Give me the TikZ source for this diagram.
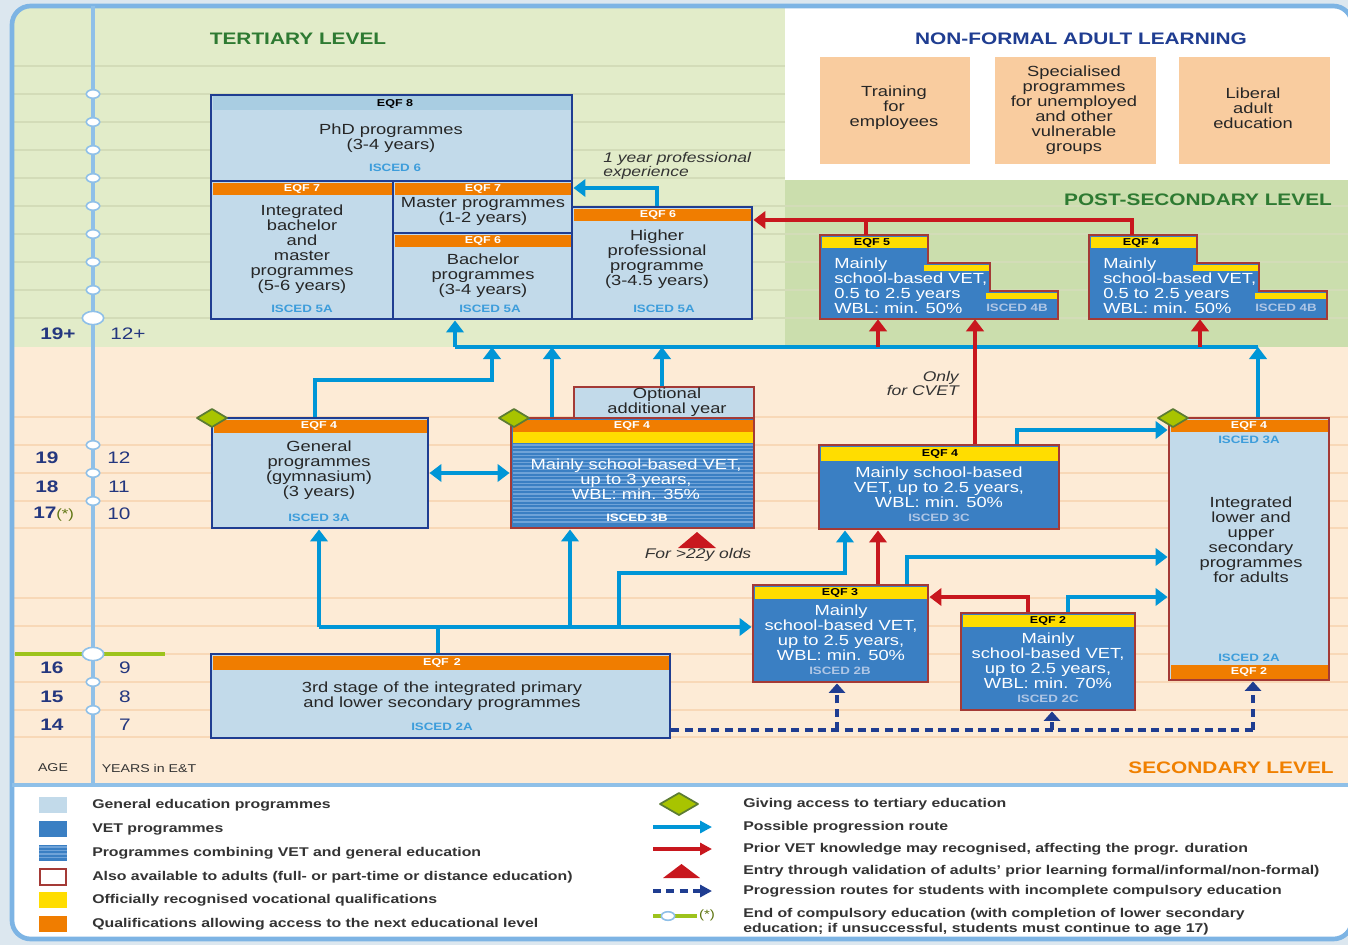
\documentclass[tikz,border=0pt]{standalone}
\usepackage{fontspec}
\setmainfont{Liberation Sans}[FakeStretch=1.25]
\usetikzlibrary{arrows.meta,fit}

\definecolor{tertgreen}{HTML}{E2ECC9}
\definecolor{postgreen}{HTML}{CBDEAD}
\definecolor{secpeach}{HTML}{FDEBD6}
\definecolor{outerbg}{HTML}{DCE7EF}
\definecolor{framebl}{HTML}{7DB4E4}
\definecolor{timebl}{HTML}{8FC0E8}
\definecolor{rowgreen}{HTML}{D3DCB8}
\definecolor{rowpeach}{HTML}{F8D8B7}
\definecolor{genfill}{HTML}{C2DAEA}
\definecolor{phdhead}{HTML}{A9CDE2}
\definecolor{genborder}{HTML}{1F3D91}
\definecolor{vetfill}{HTML}{3A7FC3}
\definecolor{stripebl}{HTML}{6FA3D8}
\definecolor{adultred}{HTML}{A43A36}
\definecolor{eqforange}{HTML}{F07D00}
\definecolor{eqfyellow}{HTML}{FFDD00}
\definecolor{iscedgen}{HTML}{3D9DDB}
\definecolor{iscedvet}{HTML}{AFC6E5}
\definecolor{progblue}{HTML}{0096D7}
\definecolor{priorred}{HTML}{C8171E}
\definecolor{diamondgr}{HTML}{A8C400}
\definecolor{diamondln}{HTML}{5C7C34}
\definecolor{compgreen}{HTML}{9DC31C}
\definecolor{titlegreen}{HTML}{2E7A32}
\definecolor{titleblue}{HTML}{1F3D91}
\definecolor{titleorange}{HTML}{F08000}
\definecolor{nonformal}{HTML}{F9CC9F}
\definecolor{legendtxt}{HTML}{333333}
\definecolor{agecol}{HTML}{24377F}

\newcommand{\bxfont}{\fontsize{11}{11.25}\selectfont}
\newcommand{\eqfft}{\fontsize{7.5}{8}\selectfont\bfseries}
\newcommand{\iscft}{\fontsize{8}{9}\selectfont\bfseries}
\newcommand{\ttlft}{\fontsize{12.5}{14}\selectfont\bfseries}
\newcommand{\noteft}{\fontsize{10.5}{10.5}\selectfont\itshape}
\newcommand{\legft}{\fontsize{9.5}{11.5}\selectfont\bfseries}
\newcommand{\ageft}{\fontsize{12.5}{13}\selectfont}

\begin{document}
\begin{tikzpicture}[x=0.75pt, y=-0.75pt,
  genbox/.style={draw=genborder, line width=2.2pt, fill=genfill, inner sep=0pt},
  adultgen/.style={draw=adultred, line width=2.2pt, fill=genfill, inner sep=0pt},
  vetbox/.style={draw=adultred, line width=2.2pt, fill=vetfill, inner sep=0pt},
  nfbox/.style={fill=nonformal, inner sep=0pt},
  txt/.style={align=center, font=\bxfont, inner sep=0pt, text=black!85},
  vettxt/.style={align=center, font=\bxfont, inner sep=0pt, text=white},
  eqfw/.style={font=\eqfft, text=white, inner sep=0pt},
  eqfk/.style={font=\eqfft, text=black, inner sep=0pt},
  iscg/.style={font=\iscft, text=iscedgen, inner sep=0pt},
  iscv/.style={font=\iscft, text=iscedvet, inner sep=0pt},
  bigtip/.style={-{Triangle[width=13pt,length=9pt]}},
  prog/.style={draw=progblue, line width=3.4pt, bigtip},
  progline/.style={draw=progblue, line width=3.4pt},
  prior/.style={draw=priorred, line width=3.4pt, bigtip},
  priorline/.style={draw=priorred, line width=3.4pt},
  incompl/.style={draw=genborder, line width=2.6pt, dash pattern=on 6pt off 4pt, -{Triangle[width=12pt,length=7pt]}},
  incompline/.style={draw=genborder, line width=2.6pt, dash pattern=on 6pt off 4pt},
  remark/.style={font=\noteft, inner sep=0pt, text=black!80},
  lvltitle/.style={font=\ttlft, inner sep=0pt},
  legtext/.style={font=\legft, text=legendtxt, anchor=west, inner sep=0pt, align=left},
  agetick/.style={fill=white, draw=timebl, line width=1.2pt},
  accessmark/.style={fill=diamondgr, draw=diamondln, line width=1.3pt, line join=round},
  agenum/.style={font=\ageft\bfseries, text=agecol, inner sep=0pt},
  yearnum/.style={font=\ageft, text=agecol, inner sep=0pt},
  legtip/.style={-{Triangle[width=9pt,length=9pt]}},
]
\useasboundingbox (0,0) rectangle (1348,945);
\fill[outerbg] (0,0) rectangle (1348,945);

% background levels
\begin{scope}
  \clip[rounded corners=14pt] (12,6) rectangle (1352,939);
  \fill[tertgreen] (12,6) rectangle (785,347);
  \fill[white] (785,6) rectangle (1352,180);
  \fill[postgreen] (785,180) rectangle (1352,347);
  \fill[secpeach] (12,347) rectangle (1352,785);
  \fill[white] (12,785) rectangle (1352,939);
  \foreach \ry in {66,94,122,150,178}
    \draw[rowgreen, line width=0.9pt] (14,\ry) -- (785,\ry);
  \foreach \ry in {206,234,262,290,318}
    \draw[rowgreen, line width=0.9pt] (14,\ry) -- (1352,\ry);
  \foreach \ry in {417,445,473,501,528,598,626,654,682,710,737}
    \draw[rowpeach, line width=0.9pt] (14,\ry) -- (1352,\ry);
\end{scope}
\draw[framebl, line width=3.5pt, rounded corners=14pt] (12,6) rectangle (1352,939);
\draw[timebl, line width=2.5pt] (12,785) -- (1352,785);

% age scale
\draw[timebl, line width=3.6pt] (93,6) -- (93,785);
\draw[compgreen, line width=3pt] (15,654) -- (165,654);
\foreach \ty in {94,122,150,178,206,234,262,290,445,473,501,682,710}
  \draw[agetick] (93,\ty) ellipse [x radius=5pt, y radius=3.2pt];
\foreach \ty in {318,654}
  \draw[agetick] (93,\ty) ellipse [x radius=8pt, y radius=5pt];
\node[agenum] at (58,334) {19+};
\node[yearnum] at (128,334) {12+};
\foreach \ax/\ay/\an/\yx/\yn in {47/458/19/119/12, 47/487/18/119/11, 52/668/16/125/9, 52/697/15/125/8, 52/725/14/125/7} {
  \node[agenum] at (\ax,\ay) {\an};
  \node[yearnum] at (\yx,\ay) {\yn};
}
\node[agenum, anchor=west] at (33,514) {17\textcolor{compgreen!60!black}{\fontsize{10}{10}\selectfont\mdseries(*)}};
\node[yearnum] at (119,514) {10};
\node[font=\fontsize{8.5}{9}\selectfont, text=legendtxt] at (53,768) {AGE};
\node[font=\fontsize{8.5}{9}\selectfont, text=legendtxt] at (149,768) {YEARS in E\&T};

% level titles
\node[lvltitle, text=titlegreen] at (298,39) {TERTIARY LEVEL};
\node[lvltitle, text=titleblue] at (1081,39) {NON-FORMAL ADULT LEARNING};
\node[lvltitle, text=titlegreen] at (1198,200) {POST-SECONDARY LEVEL};
\node[lvltitle, text=titleorange] at (1231,768) {SECONDARY LEVEL};

% non-formal adult learning
\node[nfbox, fit={(820,57) (970,164)}] (nf1) {};
\node[txt] at (894,108) {Training\\for\\employees};
\node[nfbox, fit={(995,57) (1156,164)}] (nf2) {};
\node[txt] at (1074,110) {Specialised\\programmes\\for unemployed\\and other\\vulnerable\\groups};
\node[nfbox, fit={(1179,57) (1330,164)}] (nf3) {};
\node[txt] at (1253,108) {Liberal\\adult\\education};

% tertiary level
\node[genbox, fit={(211,95) (572,181)}] (phd) {};
\fill[phdhead] (212.5,96.5) rectangle (570.5,110);
\node[eqfk] at (395,103.5) {EQF 8};
\node[txt] at (391,138) {PhD programmes\\(3-4 years)};
\node[iscg] at (395,168) {ISCED 6};

\node[genbox, fit={(211,181) (393,319)}] (ibm) {};
\fill[eqforange] (212.5,182.5) rectangle (391.5,195);
\node[eqfw] at (302,189) {EQF 7};
\node[txt] at (302,249.5) {Integrated\\bachelor\\and\\master\\programmes\\(5-6 years)};
\node[iscg] at (302,309) {ISCED 5A};

\node[genbox, fit={(393,181) (572,233)}] (mast) {};
\fill[eqforange] (394.5,182.5) rectangle (570.5,195);
\node[eqfw] at (483,189) {EQF 7};
\node[txt] at (483,211.5) {Master programmes\\(1-2 years)};

\node[genbox, fit={(393,233) (572,319)}] (bach) {};
\fill[eqforange] (394.5,234.5) rectangle (570.5,247);
\node[eqfw] at (483,241) {EQF 6};
\node[txt] at (483,276) {Bachelor\\programmes\\(3-4 years)};
\node[iscg] at (490,309) {ISCED 5A};

\node[genbox, fit={(572,207) (752,319)}] (hpp) {};
\fill[eqforange] (573.5,208.5) rectangle (750.5,221);
\node[eqfw] at (658,215) {EQF 6};
\node[txt] at (657,259.5) {Higher\\professional\\programme\\(3-4.5 years)};
\node[iscg] at (664,309) {ISCED 5A};

% post-secondary level
\foreach \ox/\lab in {820/5, 1089/4} {
  \draw[vetbox] (\ox,235) -- ++(108,0) -- ++(0,28) -- ++(62,0) -- ++(0,28) -- ++(68,0) -- ++(0,28) -- (\ox,319) -- cycle;
  \node[fit={(\ox,235) (\ox+238,319)}, inner sep=0pt] (psbox\lab) {};
  \fill[eqfyellow] (\ox+1.5,236.5) rectangle (\ox+106.5,248);
  \fill[eqfyellow] (\ox+104,265) rectangle (\ox+168.5,271);
  \fill[eqfyellow] (\ox+166,293) rectangle (\ox+236.5,299);
  \node[eqfk] at (\ox+52,242.5) {EQF \lab};
  \node[vettxt, align=left, anchor=west] at (\ox+14,285.5) {Mainly\\school-based VET,\\0.5 to 2.5 years\\WBL: min. 50\%};
  \node[iscv] at (\ox+197,308) {ISCED 4B};
}

% upper secondary level
\node[genbox, fit={(212,418) (428,528)}] (gym) {};
\fill[eqforange] (213.5,419.5) rectangle (426.5,432.5);
\node[eqfw] at (319,426) {EQF 4};
\node[txt] at (319,470) {General\\programmes\\(gymnasium)\\(3 years)};
\node[iscg] at (319,518) {ISCED 3A};

\node[adultgen, fit={(574,387) (754,418)}] (optyr) {};
\node[txt] at (667,402) {Optional\\additional year};

\node[vetbox, fit={(511,418) (754,528)}] (vet3b) {};
\fill[eqforange] (512.5,419.5) rectangle (752.5,431.5);
\fill[eqfyellow] (512.5,431.5) rectangle (752.5,443);
\foreach \sy in {445,448.5,...,525}
  \draw[stripebl, line width=0.9pt] (512.5,\sy) -- (752.5,\sy);
\node[eqfw] at (632,425.5) {EQF 4};
\node[vettxt] at (636,479) {Mainly school-based VET,\\up to 3 years,\\WBL: min. 35\%};
\node[font=\iscft, text=white, inner sep=0pt] at (637,518) {ISCED 3B};

\node[vetbox, fit={(819,445) (1059,529)}] (vet3c) {};
\fill[eqfyellow] (820.5,446.5) rectangle (1057.5,461);
\node[eqfk] at (940,454) {EQF 4};
\node[vettxt] at (939,487) {Mainly school-based\\VET, up to 2.5 years,\\WBL: min. 50\%};
\node[iscv] at (939,518) {ISCED 3C};

\node[adultgen, fit={(1169,418) (1329,680)}] (integ) {};
\fill[eqforange] (1170.5,419.5) rectangle (1327.5,432);
\fill[eqforange] (1170.5,665) rectangle (1327.5,678.5);
\node[eqfw] at (1249,426) {EQF 4};
\node[iscg] at (1249,440) {ISCED 3A};
\node[txt] at (1251,539.5) {Integrated\\lower and\\upper\\secondary\\programmes\\for adults};
\node[iscg] at (1249,658) {ISCED 2A};
\node[eqfw] at (1249,672) {EQF 2};

% lower secondary level
\node[vetbox, fit={(753,585) (928,682)}] (vet2b) {};
\fill[eqfyellow] (754.5,586.5) rectangle (926.5,598.5);
\node[eqfk] at (840,592.5) {EQF 3};
\node[vettxt] at (841,632.5) {Mainly\\school-based VET,\\up to 2.5 years,\\WBL: min. 50\%};
\node[iscv] at (840,671) {ISCED 2B};

\node[vetbox, fit={(961,613) (1135,710)}] (vet2c) {};
\fill[eqfyellow] (962.5,614.5) rectangle (1133.5,627);
\node[eqfk] at (1048,621) {EQF 2};
\node[vettxt] at (1048,660.5) {Mainly\\school-based VET,\\up to 2.5 years,\\WBL: min. 70\%};
\node[iscv] at (1048,699) {ISCED 2C};

\node[genbox, fit={(211,654) (670,738)}] (lowsec) {};
\fill[eqforange] (212.5,655.5) rectangle (668.5,669.5);
\node[eqfw] at (442,663) {EQF\enspace 2};
\node[txt] at (442,696.5) {3rd stage of the integrated primary\\and lower secondary programmes};
\node[iscg] at (442,727) {ISCED 2A};

% access to tertiary education
\foreach \dx in {212,514,1173}
  \draw[accessmark] (\dx-15,418) -- (\dx,409) -- (\dx+15,418) -- (\dx,427) -- cycle;

% progression routes
\coordinate (pe) at (657,188);
\draw[prog] (pe |- hpp.north) -- (pe) -- (pe -| mast.east);
\node[remark, align=left, anchor=west] at (603,165.5) {1 year professional\\experience};

\coordinate (cl) at (455,347);
\coordinate (cr) at (1258,347);
\draw[progline] (cr) -- (cl);
\draw[prog] (cl) -- (cl |- bach.south);
\draw[prog] (cr |- integ.north) -- (cr);
\coordinate (gb) at (315,380);
\coordinate (ge) at (492,380);
\draw[prog] (gb |- gym.north) -- (gb) -- (ge) -- (ge |- cl);
\coordinate (va) at (552,347);
\draw[prog] (va |- vet3b.north) -- (va);
\coordinate (oa) at (662,347);
\draw[prog] (oa |- optyr.north) -- (oa);
\coordinate (dy) at (470,473);
\draw[progline, {Triangle[width=13pt,length=9pt]}-{Triangle[width=13pt,length=9pt]}] (dy -| gym.east) -- (dy -| vet3b.west);

\coordinate (c3) at (1017,430);
\draw[prog] (c3 |- vet3c.north) -- (c3) -- (c3 -| integ.west);
\coordinate (b2) at (907,557);
\draw[prog] (b2 |- vet2b.north) -- (b2) -- (b2 -| integ.west);
\coordinate (c2) at (1068,597);
\draw[prog] (c2 |- vet2c.north) -- (c2) -- (c2 -| integ.west);

\coordinate (ta) at (438,627);
\coordinate (tl) at (319,627);
\draw[progline] (ta |- lowsec.north) -- (ta);
\draw[prog] (tl) -- (tl -| vet2b.west);
\draw[prog] (tl) -- (tl |- gym.south);
\coordinate (t3) at (570,627);
\draw[prog] (t3) -- (t3 |- vet3b.south);
\coordinate (tb) at (619,627);
\coordinate (tc) at (845,573);
\draw[prog] (tb) -- (tb |- tc) -- (tc) -- (tc |- vet3c.south);

% recognised prior VET knowledge
\coordinate (rp) at (1132,220);
\coordinate (rq) at (866,220);
\draw[priorline] (rq |- psbox5.north) -- (rq);
\draw[prior] (rp |- psbox4.north) -- (rp) -- (rp -| hpp.east);
\coordinate (s1) at (878,347);
\draw[prior] (s1) -- (s1 |- psbox5.south);
\coordinate (s2) at (1200,347);
\draw[prior] (s2) -- (s2 |- psbox4.south);
\coordinate (cv) at (975,320);
\draw[prior] (cv |- vet3c.north) -- (cv |- psbox5.south);
\node[remark, align=right, anchor=east] at (959,383) {Only\\for CVET};
\coordinate (r2) at (878,560);
\draw[prior] (r2 |- vet2b.north) -- (r2 |- vet3c.south);
\coordinate (r3) at (1028,597);
\draw[prior] (r3 |- vet2c.north) -- (r3) -- (r3 -| vet2b.east);

% validation of prior learning
\fill[priorred] (678,548) -- (697,532) -- (716,548) -- cycle;
\node[remark] at (698,555) {For >22y olds};

% incomplete compulsory education
\coordinate (dl) at (1253,730);
\draw[incompline] (lowsec.east |- dl) -- (dl);
\draw[incompl] (dl) -- (dl |- integ.south);
\coordinate (d2) at (837,730);
\draw[incompl] (d2) -- (d2 |- vet2b.south);
\coordinate (d3) at (1052,730);
\draw[incompl] (d3) -- (d3 |- vet2c.south);

% legend
\fill[genfill] (39,797) rectangle (67,813);
\fill[vetfill] (39,821) rectangle (67,837);
\fill[vetfill] (39,845) rectangle (67,861);
\foreach \sy in {847,850.5,...,860}
  \draw[stripebl, line width=0.9pt] (39,\sy) -- (67,\sy);
\draw[adultred, line width=1.2pt, fill=white] (40,869) rectangle (66,885);
\fill[eqfyellow] (39,892) rectangle (67,908);
\fill[eqforange] (39,916) rectangle (67,932);
\node[legtext] at (92,805) {General education programmes};
\node[legtext] at (92,829) {VET programmes};
\node[legtext] at (92,853) {Programmes combining VET and general education};
\node[legtext] at (92,877) {Also available to adults (full- or part-time or distance education)};
\node[legtext] at (92,900) {Officially recognised vocational qualifications};
\node[legtext] at (92,924) {Qualifications allowing access to the next educational level};

\draw[accessmark] (660,804) -- (679,793) -- (698,804) -- (679,815) -- cycle;
\coordinate (lg1a) at (653,827);
\coordinate (lg1b) at (712,827);
\draw[progline, legtip] (lg1a) -- (lg1b);
\coordinate (lg2a) at (653,849);
\coordinate (lg2b) at (712,849);
\draw[priorline, legtip] (lg2a) -- (lg2b);
\fill[priorred] (663,878) -- (681.5,864) -- (700,878) -- cycle;
\coordinate (lg3a) at (653,891);
\coordinate (lg3b) at (712,891);
\draw[incompline, legtip] (lg3a) -- (lg3b);
\draw[compgreen, line width=3pt] (653,916) -- (697,916);
\draw[agetick] (668,916) ellipse [x radius=5pt, y radius=3.2pt];
\node[font=\fontsize{9}{10}\selectfont, text=compgreen!60!black, inner sep=0pt] at (707,915) {(*)};
\node[legtext] at (743,804) {Giving access to tertiary education};
\node[legtext] at (743,827) {Possible progression route};
\node[legtext] at (743,849) {Prior VET knowledge may recognised, affecting the progr. duration};
\node[legtext] at (743,871) {Entry through validation of adults' prior learning formal/informal/non-formal)};
\node[legtext] at (743,891) {Progression routes for students with incomplete compulsory education};
\node[legtext] at (743,922) {End of compulsory education (with completion of lower secondary\\education; if unsuccessful, students must continue to age 17)};
\end{tikzpicture}
\end{document}
